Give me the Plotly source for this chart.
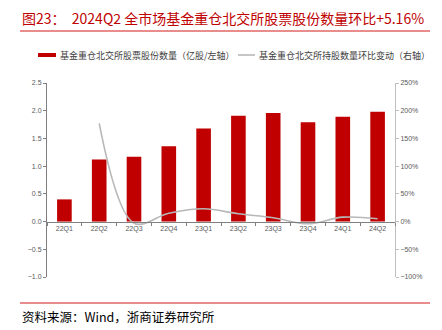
import plotly.graph_objects as go

quarters = ["22Q1", "22Q2", "22Q3", "22Q4", "23Q1", "23Q2", "23Q3", "23Q4", "24Q1", "24Q2"]
shares = [0.40, 1.12, 1.17, 1.36, 1.68, 1.91, 1.96, 1.79, 1.89, 1.98]   # 亿股
qoq_quarters = quarters[1:]
qoq_pct = [177, -3, 15, 23, 14, 7, -4, 8, 5.16]                          # %

W, H = 442, 330
L, R, T, B = 47, 47, 83, 53
PW, PH = W - L - R, H - T - B


def px(x):
    return (x - L) / PW


def py(y):
    return (H - B - y) / PH


CJK = "Noto Sans CJK SC"
TICK = dict(family="Liberation Sans, Arial", size=7, color="#595959")

fig = go.Figure()
fig.add_trace(go.Bar(x=quarters, y=shares, marker_color="#c00000",
                     marker_line_width=0, width=0.42, yaxis="y", showlegend=False))
fig.add_trace(go.Scatter(x=qoq_quarters, y=qoq_pct, mode="lines", yaxis="y2",
                         line=dict(color="#b8b8b8", width=1.6, shape="spline", smoothing=1.0),
                         showlegend=False))

zero_pos = 1.0 / 3.5

fig.update_layout(
    width=W, height=H,
    margin=dict(l=L, r=R, t=T, b=B),
    paper_bgcolor="white", plot_bgcolor="white",
    xaxis=dict(type="category", anchor="free", position=zero_pos,
               showline=True, linecolor="#808080", linewidth=1,
               ticks="outside", tickson="boundaries", ticklen=3, tickcolor="#808080",
               tickfont=TICK, showgrid=False, zeroline=False),
    yaxis=dict(range=[-1.0, 2.5], dtick=0.5, tickformat=".1f",
               showline=True, linecolor="#808080", linewidth=1,
               ticks="outside", ticklen=3, tickcolor="#808080",
               tickfont=TICK, showgrid=False, zeroline=False),
    yaxis2=dict(range=[-100, 250], dtick=50, ticksuffix="%", overlaying="y", side="right",
                showline=True, linecolor="#bfbfbf", linewidth=1,
                ticks="outside", ticklen=3, tickcolor="#bfbfbf",
                tickfont=TICK, showgrid=False, zeroline=False),
    showlegend=False,
)

# title and red rules
fig.add_annotation(xref="paper", yref="paper", x=px(20), y=py(18), xanchor="left", yanchor="middle",
                   text="图23：  2024Q2 全市场基金重仓北交所股票股份数量环比+5.16%",
                   showarrow=False, font=dict(family=CJK, size=14, color="#c00000"))
for yy in (31, 303):
    fig.add_shape(type="line", xref="paper", yref="paper", x0=px(20), x1=px(430),
                  y0=py(yy), y1=py(yy), line=dict(color="#e06666", width=1.5))

# legend
fig.add_shape(type="rect", xref="paper", yref="paper", x0=px(38), x1=px(56),
              y0=py(57), y1=py(53), fillcolor="#c00000", line_width=0)
fig.add_annotation(xref="paper", yref="paper", x=px(58), y=py(55), xanchor="left", yanchor="middle",
                   text="基金重仓北交所股票股份数量（亿股/左轴）", showarrow=False,
                   font=dict(family=CJK, size=9, color="#404040"))
fig.add_shape(type="line", xref="paper", yref="paper", x0=px(238), x1=px(255),
              y0=py(55), y1=py(55), line=dict(color="#b8b8b8", width=1.6))
fig.add_annotation(xref="paper", yref="paper", x=px(257), y=py(55), xanchor="left", yanchor="middle",
                   text="基金重仓北交所持股数量环比变动（右轴）", showarrow=False,
                   font=dict(family=CJK, size=9, color="#404040"))

# source note
fig.add_annotation(xref="paper", yref="paper", x=px(20), y=py(316), xanchor="left", yanchor="middle",
                   text="资料来源：Wind，浙商证券研究所", showarrow=False,
                   font=dict(family=CJK, size=12.5, color="#000000"))

fig.write_html("out.html")
